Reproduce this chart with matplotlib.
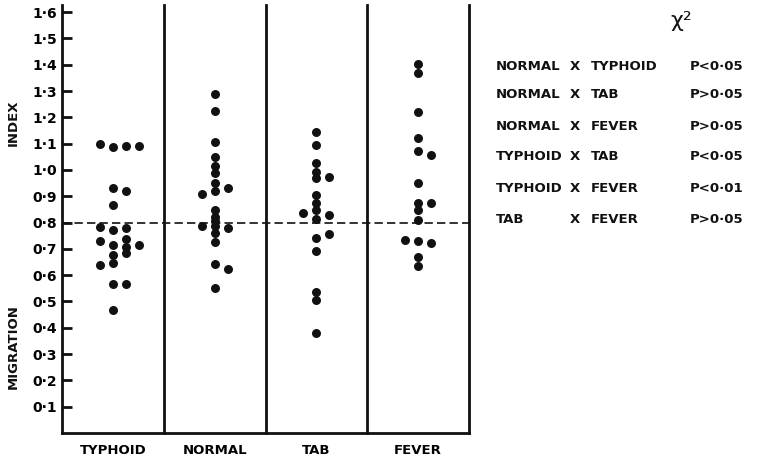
import numpy as np
import matplotlib
matplotlib.use("Agg")
import matplotlib.pyplot as plt

GROUPS = ["TYPHOID", "NORMAL", "TAB", "FEVER"]

# migration index per subject
TYPHOID = [1.097, 1.087, 1.090, 1.092, 0.932, 0.920, 0.865, 0.783, 0.770, 0.779, 0.728,
           0.713, 0.739, 0.707, 0.683, 0.716, 0.675, 0.640, 0.645, 0.568, 0.568, 0.467]
NORMAL = [1.290, 1.225, 1.106, 1.048, 1.015, 0.987, 0.950, 0.920, 0.909, 0.931, 0.846,
          0.823, 0.804, 0.788, 0.785, 0.779, 0.760, 0.725, 0.643, 0.625, 0.552]
TAB = [1.145, 1.094, 1.025, 0.994, 0.968, 0.975, 0.904, 0.876, 0.846, 0.836, 0.830,
       0.813, 0.741, 0.755, 0.693, 0.535, 0.505, 0.381]
FEVER = [1.402, 1.369, 1.221, 1.121, 1.073, 1.058, 0.951, 0.876, 0.876, 0.846, 0.811,
         0.732, 0.730, 0.723, 0.669, 0.635]

# column each dot sits in (dot-plot stacking)
TYPHOID_COL = [-1, 0, 1, 2, 0, 1, 0, -1, 0, 1, -1, 0, 1, 1, 1, 2, 0, -1, 0, 0, 1, 0]
NORMAL_COL = [0, 0, 0, 0, 0, 0, 0, 0, -1, 1, 0, 0, 0, -1, 0, 1, 0, 0, 0, 1, 0]
TAB_COL = [0, 0, 0, 0, 0, 1, 0, 0, 0, -1, 1, 0, 0, 1, 0, 0, 0, 0]
FEVER_COL = [0, 0, 0, 0, 0, 1, 0, 0, 1, 0, 0, -1, 0, 1, 0, 0]

REFERENCE = 0.8
YTICKS = [0.1, 0.2, 0.3, 0.4, 0.5, 0.6, 0.7, 0.8, 0.9, 1.0, 1.1, 1.2, 1.3, 1.4, 1.5, 1.6]

PAIR_A = ["NORMAL", "NORMAL", "NORMAL", "TYPHOID", "TYPHOID", "TAB"]
PAIR_B = ["TYPHOID", "TAB", "FEVER", "TAB", "FEVER", "FEVER"]
P_VALUES = ["P<0·05", "P>0·05", "P>0·05", "P<0·05", "P<0·01", "P>0·05"]

FONT = "DejaVu Sans"
INK = "#111111"

W, H = 761, 461
fig = plt.figure(figsize=(W / 100, H / 100), dpi=100)
ax = fig.add_axes([62 / W, 28 / H, 407 / W, 428 / H])

step = 0.128
values = [TYPHOID, NORMAL, TAB, FEVER]
cols = [TYPHOID_COL, NORMAL_COL, TAB_COL, FEVER_COL]
for i, (v, c) in enumerate(zip(values, cols)):
    x = i + 0.5 + np.array(c) * step
    ax.scatter(x, v, s=42, color=INK, linewidths=0, zorder=3, clip_on=False)

ax.axhline(REFERENCE, color=INK, lw=1.2, dashes=(5, 2.5), zorder=2)
for xs in [1, 2, 3, 4]:
    ax.axvline(xs, color=INK, lw=2, clip_on=False)

ax.set_xlim(0, 4)
ax.set_ylim(0, 1.627)
ax.set_xticks(np.arange(len(GROUPS)) + 0.5)
ax.set_xticklabels(GROUPS, fontfamily=FONT, fontweight="bold", fontsize=9.5)
ax.set_yticks(YTICKS)
ax.set_yticklabels([f"{t:.1f}".replace(".", "·") for t in YTICKS],
                   fontfamily=FONT, fontweight="bold", fontsize=10)
ax.tick_params(axis="y", direction="in", length=7, width=2, pad=3.5, color=INK)
ax.tick_params(axis="x", length=0, pad=8)
for s in ["top", "right"]:
    ax.spines[s].set_visible(False)
for s in ["left", "bottom"]:
    ax.spines[s].set_linewidth(2)
    ax.spines[s].set_color(INK)

lab = dict(fontfamily=FONT, fontweight="bold", fontsize=9.5,
           rotation=90, ha="center", va="center", color=INK)
fig.text(13 / W, 1 - 123 / H, "INDEX", **lab)
fig.text(13 / W, 1 - 347 / H, "MIGRATION", **lab)

fig.text(681 / W, 1 - 21 / H, "χ²", fontfamily=FONT, fontsize=16,
         ha="center", va="center", color=INK)

rows_y = [67, 94, 126, 156, 188, 219]
txt = dict(fontfamily=FONT, fontweight="bold", fontsize=9.5,
           ha="left", va="center", color=INK)
for y, a, b, p in zip(rows_y, PAIR_A, PAIR_B, P_VALUES):
    fig.text(496 / W, 1 - y / H, a, **txt)
    fig.text(570 / W, 1 - y / H, "X", **txt)
    fig.text(591 / W, 1 - y / H, b, **txt)
    fig.text(690 / W, 1 - y / H, p, **txt)

fig.savefig("out.png", dpi=100)
